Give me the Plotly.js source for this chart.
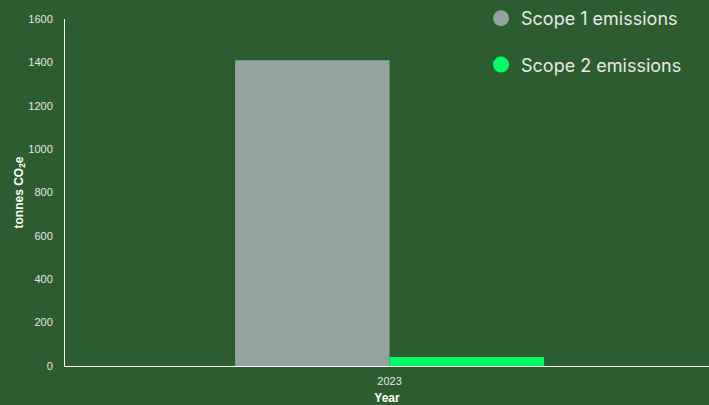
<!DOCTYPE html>
<html>
<head>
<meta charset="utf-8">
<script src="https://cdn.plot.ly/plotly-3.0.1.min.js"></script>
<style>html,body{margin:0;padding:0;background:#2c5d2e;}#chart{width:709px;height:405px;}</style>
</head>
<body>
<div id="chart"></div>
<script>
const years = ["2023"];
const scope1 = [1410];
const scope2 = [41];
const seriesNames = ["Scope 1 emissions", "Scope 2 emissions"];
const seriesColors = ["#93a39d", "#00fd62"];

const bg = "#2c5d2e";
const traces = [
  {type: "bar", x: years, y: scope1, name: seriesNames[0], marker: {color: seriesColors[0]}, showlegend: false, hoverinfo: "none"},
  {type: "bar", x: years, y: scope2, name: seriesNames[1], marker: {color: seriesColors[1]}, showlegend: false, hoverinfo: "none"},
  {type: "scatter", mode: "markers", x: [null], y: [null], name: seriesNames[0], legendgroup: "a", marker: {color: seriesColors[0], size: 22, symbol: "circle"}},
  {type: "scatter", mode: "markers", x: [null], y: [null], name: seriesNames[1], legendgroup: "b", marker: {color: seriesColors[1], size: 22, symbol: "circle"}}
];

const layout = {
  width: 709, height: 405,
  paper_bgcolor: bg, plot_bgcolor: bg,
  margin: {l: 65, r: 0, t: 19, b: 39},
  barmode: "group", bargap: 0.524, bargroupgap: 0,
  font: {family: "Liberation Sans, Arial, sans-serif", color: "#e6e6e6", size: 11},
  xaxis: {
    type: "category", range: [-0.5, 0.492], showgrid: false, zeroline: false, showline: true, linecolor: "#ffffff", linewidth: 1,
    ticks: "", ticklabelstandoff: 5, tickfont: {size: 11, color: "#e6e6e6"},
    title: {text: "Year", font: {size: 12, color: "#ffffff", weight: "bold"}, standoff: 8}
  },
  yaxis: {
    range: [0, 1600], dtick: 200, showgrid: false, zeroline: false, showline: true, linecolor: "#ffffff", linewidth: 1,
    ticks: "", ticklabelstandoff: 9, tickfont: {size: 11, color: "#e6e6e6"},
    title: {text: "tonnes CO<sub>2</sub>e", font: {size: 12, color: "#ffffff", weight: "bold"}, standoff: 2}
  },
  legend: {
    x: 0.646, y: 1.056, xanchor: "left", yanchor: "top",
    bgcolor: "rgba(0,0,0,0)", traceorder: "grouped", tracegroupgap: 20,
    font: {family: "Inter, Roboto, sans-serif", size: 18, color: "#e8e8e8"},
    itemwidth: 30
  },
  showlegend: true
};

Plotly.newPlot("chart", traces, layout, {displayModeBar: false, staticPlot: true});
</script>
</body>
</html>
